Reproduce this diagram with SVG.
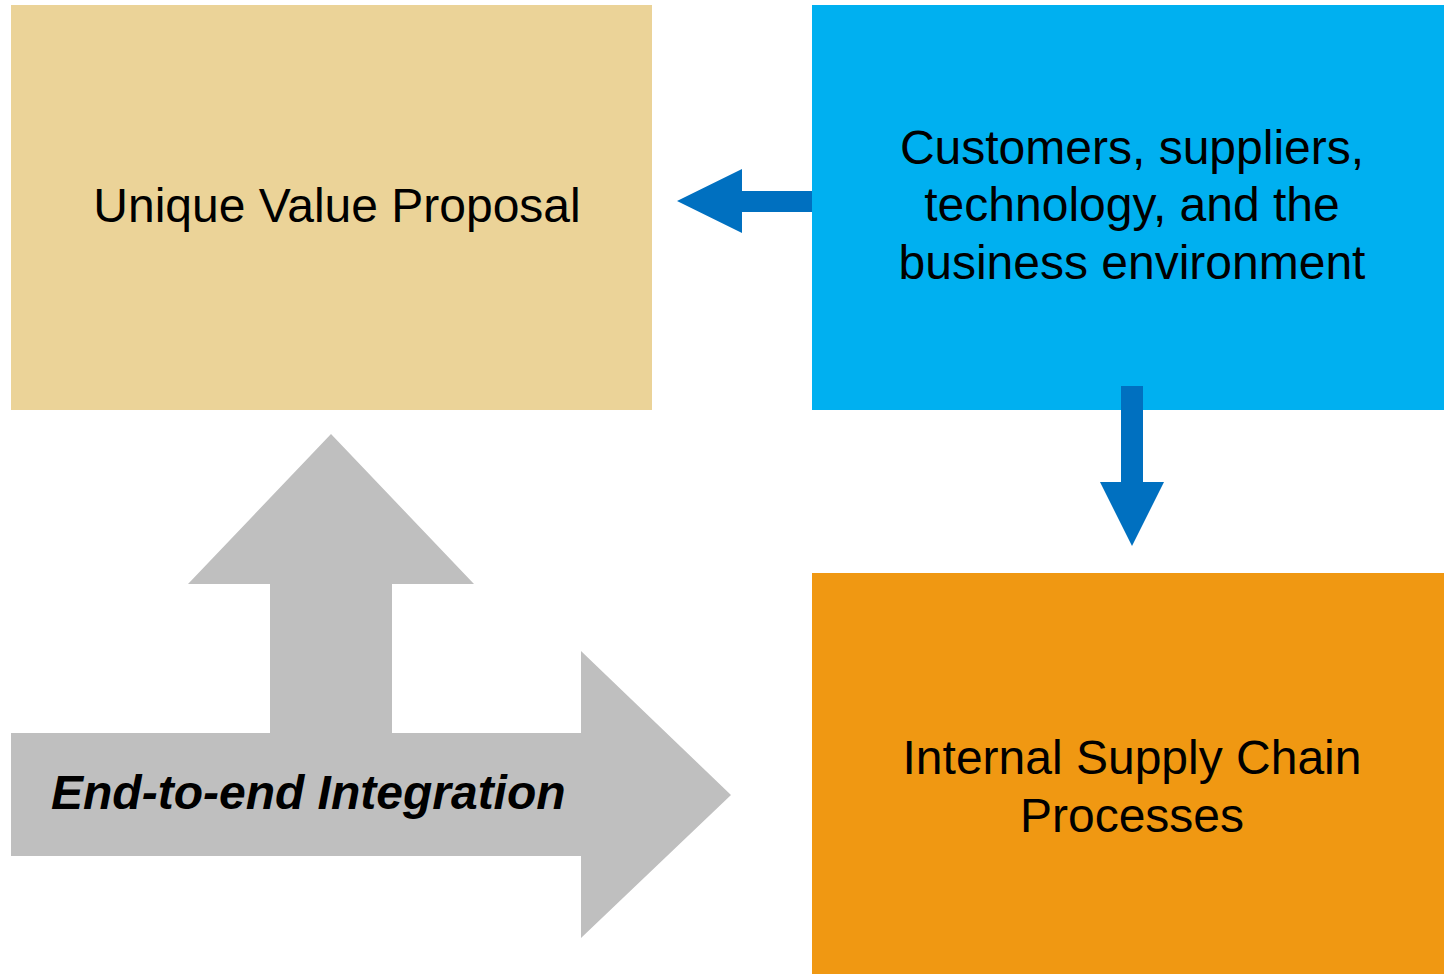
<svg xmlns="http://www.w3.org/2000/svg" width="1444" height="974" viewBox="0 0 1444 974">
  <style>
    .label { font-family: "Liberation Sans", Arial, sans-serif; font-size: 48px; fill: #000; text-anchor: middle; }
    .flow { fill: #0070C0; }
    .big { fill: #BFBFBF; }
  </style>
  <rect width="1444" height="974" fill="#fff"/>

  <g id="value-proposal">
    <rect x="11" y="5" width="641" height="405" fill="#EBD398"/>
    <text class="label" x="337" y="222">Unique Value Proposal</text>
  </g>

  <g id="environment">
    <rect x="812" y="5" width="632" height="405" fill="#00B0F0"/>
    <text class="label" x="1132" y="164">Customers, suppliers,</text>
    <text class="label" x="1132" y="221">technology, and the</text>
    <text class="label" x="1132" y="279">business environment</text>
  </g>

  <g id="supply-chain">
    <rect x="812" y="573" width="632" height="401" fill="#F09812"/>
    <text class="label" x="1132" y="774">Internal Supply Chain</text>
    <text class="label" x="1132" y="832">Processes</text>
  </g>

  <g id="integration">
    <polygon class="big" points="331,434 474,584 392,584 392,733 581,733 581,651 731,795 581,938 581,856 11,856 11,733 270,733 270,584 188,584"/>
    <text x="51" y="809" font-family="'Liberation Sans', Arial, sans-serif" font-size="48" font-weight="bold" font-style="italic" fill="#000">End-to-end Integration</text>
  </g>

  <g id="connectors">
    <polygon class="flow" points="812,191 742,191 742,169 677,201 742,233 742,212 812,212"/>
    <polygon class="flow" points="1121,386 1143,386 1143,482 1164,482 1132,546 1100,482 1121,482"/>
  </g>
</svg>
